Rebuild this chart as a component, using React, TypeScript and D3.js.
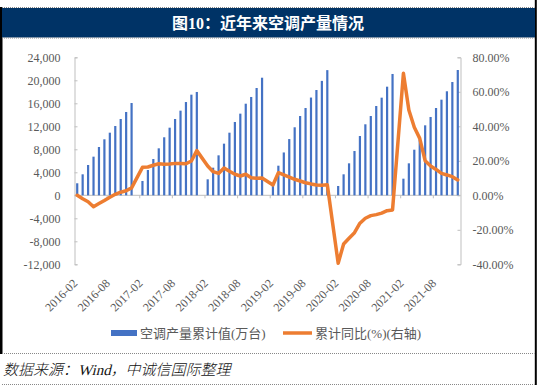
import { useEffect, useRef } from 'react';
import * as d3 from 'd3';

// cumulative air-conditioner output, Feb..Dec of each year (万台)
const output2016 = [2090, 3650, 5270, 6720, 8400, 9740, 10890, 12050, 13270, 14490, 16050];
const output2017 = [2490, 4400, 6310, 8170, 10090, 11760, 13270, 14720, 16220, 17500, 17970];
const output2018 = [2780, 4800, 6950, 8980, 10890, 12750, 14200, 15930, 17100, 18660, 20450];
const output2019 = [1800, 5150, 7450, 9780, 11830, 13790, 15180, 17000, 18310, 19900, 21770];
const output2020 = [1620, 3650, 5560, 7700, 10310, 12350, 13790, 15530, 16980, 18890, 21100];
const output2021 = [2890, 5560, 7930, 9740, 12170, 13620, 15180, 16630, 18090, 19700, 21790];

// cumulative YoY (%), Feb..Dec of each year
const yoy2016 = [0, -2, -3.7, -6.6, -4.8, -3, -1.1, 0.6, 1.8, 2.6, 4.3];
const yoy2017 = [16.2, 16.4, 17.4, 18.3, 18, 18.1, 18.5, 18.5, 18.3, 19.9, 25.9];
const yoy2018 = [17, 13.7, 12.7, 15.8, 13.9, 12.2, 11.2, 12.2, 10.2, 9.9, 10];
const yoy2019 = [6, 13.1, 11.8, 10.6, 9.3, 8.3, 7.3, 6.6, 6, 5.8, 6.1];
const yoy2020 = [-39.4, -28.2, -24.9, -21.7, -16.2, -13.3, -11.8, -11.2, -10.3, -8.9, -8.5];
const yoy2021 = [70.7, 49.4, 39.4, 33, 20, 17, 15, 12.7, 11.8, 10.8, 8.9];

const years = ['2016', '2017', '2018', '2019', '2020', '2021'];
const outputByYear = [output2016, output2017, output2018, output2019, output2020, output2021];
const yoyByYear = [yoy2016, yoy2017, yoy2018, yoy2019, yoy2020, yoy2021];

const leftTicks = [-12000, -8000, -4000, 0, 4000, 8000, 12000, 16000, 20000, 24000];
const rightTicks = [-40, -20, 0, 20, 40, 60, 80];

const title = '图10：近年来空调产量情况';
const barLabel = '空调产量累计值(万台)';
const lineLabel = '累计同比(%)(右轴)';
const source = '数据来源：Wind，中诚信国际整理';

type Row = { month: string; output: number | null; yoy: number | null };

// one category per month; January has no reading
const rows: Row[] = [];
years.forEach((yr, yi) => {
  if (yi > 0) rows.push({ month: `${yr}-01`, output: null, yoy: null });
  outputByYear[yi].forEach((v, mi) => {
    rows.push({ month: `${yr}-${String(mi + 2).padStart(2, '0')}`, output: v, yoy: yoyByYear[yi][mi] });
  });
});

const App = () => {
  const svgRef = useRef<SVGSVGElement>(null);

  useEffect(() => {
    const width = 538;
    const height = 387;
    const plot = { left: 74.5, right: 460.5, top: 57.3, bottom: 264.3 };
    const serif = '"Times New Roman", "Liberation Serif", "Noto Sans CJK SC", serif';
    const gray = '#595959';
    const axisColor = '#bfbfbf';

    const svg = d3.select(svgRef.current)
      .attr('width', width)
      .attr('height', height)
      .style('position', 'absolute')
      .style('left', 0)
      .style('top', 0)
      .style('background', '#fff');

    svg.selectAll('*').remove();

    // frame: black edges, title band, dotted rules
    svg.append('rect').attr('x', 0).attr('y', 7).attr('width', 2.5).attr('height', 347).attr('fill', '#000');
    svg.append('rect').attr('x', 534.8).attr('y', 0).attr('width', 2).attr('height', 385).attr('fill', '#000');
    svg.append('rect').attr('x', 2).attr('y', 8).attr('width', 533).attr('height', 29.5).attr('fill', '#003366');
    [7.5, 38, 353.5, 384.5].forEach(y => {
      svg.append('line')
        .attr('x1', 2).attr('x2', 534.5).attr('y1', y).attr('y2', y)
        .attr('stroke', '#888').attr('stroke-width', 1).attr('stroke-dasharray', '1,1');
    });

    svg.append('text')
      .attr('x', 268)
      .attr('y', 28.5)
      .attr('text-anchor', 'middle')
      .style('font-family', serif)
      .style('font-size', '16px')
      .style('font-weight', 'bold')
      .attr('fill', '#fff')
      .text(title);

    // scales
    const xScale = d3.scaleBand()
      .domain(rows.map(d => d.month))
      .range([plot.left, plot.right])
      .padding(0);
    const bw = xScale.bandwidth();
    const cx = (m: string) => (xScale(m) as number) + bw / 2;

    const yLeft = d3.scaleLinear().domain([-12000, 24000]).range([plot.bottom, plot.top]);
    const yRight = d3.scaleLinear().domain([-40, 80]).range([plot.bottom, plot.top]);

    const fmtLeft = d3.formatLocale({ decimal: '.', thousands: ',', grouping: [3], currency: ['', ''], minus: '-' }).format(',');

    // left axis
    const gl = svg.append('g')
      .attr('transform', `translate(${plot.left}, 0)`)
      .call(d3.axisLeft(yLeft).tickValues(leftTicks).tickSizeInner(-3).tickSizeOuter(-3).tickPadding(14).tickFormat(d => fmtLeft(d as number)));
    gl.selectAll('path, line').attr('stroke', axisColor);
    gl.selectAll('text').style('font-family', serif).style('font-size', '12px').attr('fill', gray);

    // right axis
    const gr = svg.append('g')
      .attr('transform', `translate(${plot.right}, 0)`)
      .call(d3.axisRight(yRight).tickValues(rightTicks).tickSizeInner(-3).tickSizeOuter(-3).tickPadding(12).tickFormat(d => `${(d as number).toFixed(2)}%`));
    gr.selectAll('path, line').attr('stroke', axisColor);
    gr.selectAll('text').style('font-family', serif).style('font-size', '12px').attr('fill', gray);

    // category axis on the zero line, ticks every six months
    const y0 = yLeft(0);
    svg.append('line')
      .attr('x1', plot.left).attr('x2', plot.right).attr('y1', y0).attr('y2', y0)
      .attr('stroke', axisColor);
    rows.forEach((d, i) => {
      if (i % 6 !== 0 || i === 0) return;
      const x = xScale(d.month) as number;
      svg.append('line')
        .attr('x1', x).attr('x2', x).attr('y1', y0).attr('y2', y0 + 3)
        .attr('stroke', axisColor);
    });

    // bars
    const barW = 2.2;
    svg.selectAll('.bar')
      .data(rows.filter(d => d.output != null))
      .enter()
      .append('rect')
      .attr('class', 'bar')
      .attr('x', d => cx(d.month) - barW / 2)
      .attr('y', d => yLeft(d.output as number))
      .attr('width', barW)
      .attr('height', d => y0 - yLeft(d.output as number))
      .attr('fill', '#4472c4');

    // yoy line (joined across January gaps)
    const line = d3.line<Row>()
      .x(d => cx(d.month))
      .y(d => yRight(d.yoy as number));
    svg.append('path')
      .datum(rows.filter(d => d.yoy != null))
      .attr('d', line)
      .attr('fill', 'none')
      .attr('stroke', '#ed7d31')
      .attr('stroke-width', 3.5)
      .attr('stroke-linejoin', 'round')
      .attr('stroke-linecap', 'round');

    // rotated month labels below the plot
    rows.forEach((d, i) => {
      if (i % 6 !== 0) return;
      const x = cx(d.month) + 1;
      const y = 284;
      svg.append('text')
        .attr('transform', `translate(${x},${y}) rotate(-45)`)
        .attr('text-anchor', 'end')
        .style('font-family', serif)
        .style('font-size', '12px')
        .attr('fill', gray)
        .text(d.month);
    });

    // legend
    const ly = 333;
    svg.append('rect').attr('x', 111).attr('y', ly - 3).attr('width', 26).attr('height', 6).attr('fill', '#4472c4');
    svg.append('text')
      .attr('x', 140).attr('y', ly + 4.5)
      .style('font-family', serif).style('font-size', '13px').attr('fill', gray)
      .text(barLabel);
    svg.append('line')
      .attr('x1', 283).attr('x2', 312).attr('y1', ly).attr('y2', ly)
      .attr('stroke', '#ed7d31').attr('stroke-width', 3.5);
    svg.append('text')
      .attr('x', 315).attr('y', ly + 4.5)
      .style('font-family', serif).style('font-size', '13px').attr('fill', gray)
      .text(lineLabel);

    // source note, slanted like the original
    svg.append('text')
      .attr('transform', 'translate(3,375) skewX(-14)')
      .style('font-family', serif)
      .style('font-size', '15px')
      .style('font-weight', 300)
      .attr('fill', '#111')
      .text(source);
  }, []);

  return <svg ref={svgRef}></svg>;
};

export default App;
